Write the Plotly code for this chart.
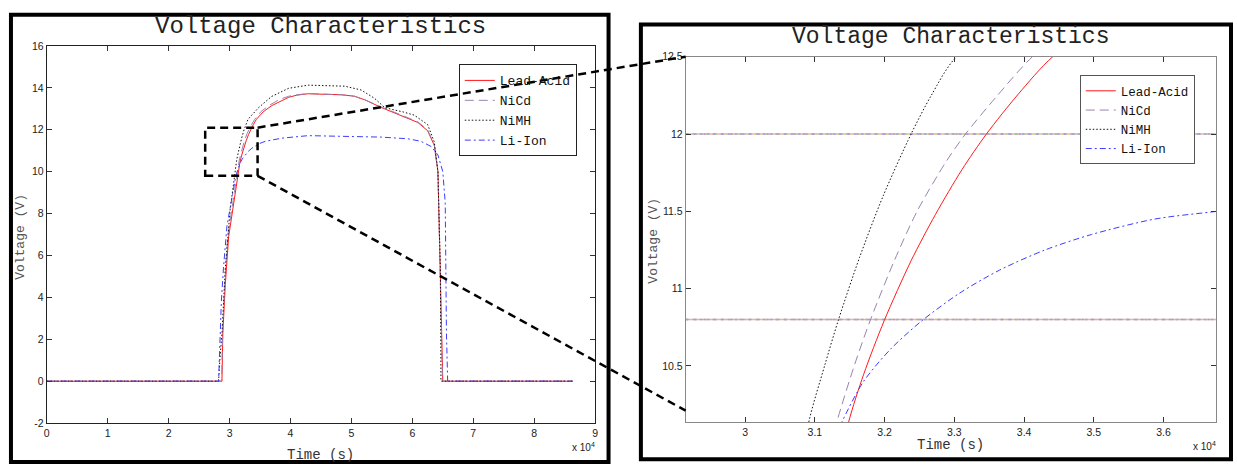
import plotly.graph_objects as go

W, H = 1237, 470

# ---------------- data (time in seconds, voltage in V) ----------------
SERIES = ["Lead-Acid", "NiCd", "NiMH", "Li-Ion"]

lead_t = [0, 28750, 28900, 29300, 29850, 30700, 31200, 31480, 31700, 31995, 32380,
          32730, 33110, 33460, 33920, 34410, 35500, 36900, 38500, 39700, 41000,
          42900, 45000, 48400, 50500, 52200, 55000, 58200, 60900, 62500, 63600,
          64200, 64400, 64700, 65000, 86300]
lead_v = [0, 0, 2.3, 4.6, 6.9, 8.5, 9.55, 10.13, 10.445, 10.793, 11.18,
          11.48, 11.77, 12.0, 12.26, 12.5, 12.85, 13.15, 13.4, 13.55, 13.65,
          13.72, 13.70, 13.67, 13.6, 13.43, 13.05, 12.66, 12.35, 11.96, 11.26,
          10.0, 7.7, 3.8, 0, 0]

nicd_t = [0, 28700, 28850, 29200, 29700, 30500, 31000, 31310, 31572, 31791, 32139,
          32466, 32880, 33160, 33600, 34120, 35200, 36600, 38200, 39700, 41000,
          42900, 45000, 48400, 50500, 52200, 55000, 58200, 60900, 62500, 63600,
          64200, 64400, 64700, 64950, 86300]
nicd_v = [0, 0, 2.3, 4.6, 6.9, 8.5, 9.6, 10.13, 10.51, 10.79, 11.18,
          11.5, 11.82, 12.0, 12.24, 12.5, 12.88, 13.18, 13.45, 13.6, 13.67,
          13.73, 13.70, 13.67, 13.6, 13.43, 13.08, 12.7, 12.38, 12.0, 11.3,
          10.0, 7.7, 3.8, 0, 0]

nimh_t = [0, 28200, 28400, 28760, 29300, 30100, 30600, 30910, 31140, 31340, 31640,
          31980, 32380, 32670, 33030, 34750, 36900, 39700, 42900, 48900, 51600,
          53800, 55500, 58500, 60300, 62500, 63600, 64200, 64600, 64700, 86300]
nimh_v = [0, 0, 1.0, 2.3, 5.4, 8.2, 9.3, 10.13, 10.5, 10.8, 11.2,
          11.6, 12.0, 12.25, 12.5, 13.05, 13.59, 13.98, 14.13, 14.08, 13.9,
          13.5, 13.05, 12.85, 12.7, 12.25, 11.42, 10.0, 5.4, 0, 0]

liion_t = [0, 28200, 28650, 29000, 29570, 30400, 31000, 31380, 31700, 32090, 32530,
           33074, 33651, 34301, 34968, 35877, 36770, 38600, 42900, 49500, 54900,
           59300, 61400, 63100, 64200, 65000, 65400, 65500, 65600, 65800, 86300]
liion_v = [0, 0, 3.8, 5.4, 7.4, 8.8, 9.75, 10.13, 10.40, 10.61, 10.79,
           10.97, 11.12, 11.25, 11.35, 11.45, 11.50, 11.6, 11.72, 11.70, 11.65,
           11.57, 11.45, 11.2, 10.8, 10.0, 8.5, 5.4, 2.3, 0, 0]

LEVELS = [12.0, 10.8]            # horizontal reference lines in the zoomed view

X1_TICKS = [0, 10000, 20000, 30000, 40000, 50000, 60000, 70000, 80000, 90000]
X1_LABELS = ["0", "1", "2", "3", "4", "5", "6", "7", "8", "9"]
Y1_TICKS = [-2, 0, 2, 4, 6, 8, 10, 12, 14, 16]
X2_TICKS = [30000, 31000, 32000, 33000, 34000, 35000, 36000]
X2_LABELS = ["3", "3.1", "3.2", "3.3", "3.4", "3.5", "3.6"]
Y2_TICKS = [10.5, 11, 11.5, 12, 12.5]
Y2_LABELS = ["10.5", "11", "11.5", "12", "12.5"]

XR1, YR1 = [0, 90000], [-2, 16]
XR2, YR2 = [29148, 36753], [10.136, 12.5]
ZOOM_X, ZOOM_Y = [26000, 34600], [9.8, 12.1]
CONNECT_Y2 = [12.5, 10.21]

TITLE = "Voltage Characteristics"

# ---------------- layout geometry (pixels) ----------------
def px(x):
    return x / W

def py(y):
    return 1 - y / H

P1 = dict(l=44, r=595, t=41, b=428)
P2 = dict(l=686, r=1219, t=52, b=427)

styles = {
    "Lead-Acid": dict(color="#ff1a1a", width=1, dash="solid"),
    "NiCd": dict(color="#9a82b0", width=1, dash="9px,5px"),
    "NiMH": dict(color="#111111", width=1, dash="1.5px,2px"),
    "Li-Ion": dict(color="#3c3cff", width=1, dash="6px,3px,2px,3px"),
}
data = {
    "Lead-Acid": (lead_t, lead_v),
    "NiCd": (nicd_t, nicd_v),
    "NiMH": (nimh_t, nimh_v),
    "Li-Ion": (liion_t, liion_v),
}

fig = go.Figure()
for name in SERIES:
    t, v = data[name]
    fig.add_trace(go.Scatter(x=t, y=v, mode="lines", name=name, line=styles[name],
                             xaxis="x", yaxis="y", legend="legend"))
for name in SERIES:
    t, v = data[name]
    fig.add_trace(go.Scatter(x=t, y=v, mode="lines", name=name,
                             line=dict(**styles[name], shape="spline", smoothing=0.8),
                             xaxis="x2", yaxis="y2", legend="legend2"))

tickfont = dict(family="Liberation Sans", size=10.5, color="#222")
mono = "Liberation Mono"

def axis(domain, rng, tickvals, ticktext, anchor, linecolor):
    return dict(domain=domain, range=rng, tickvals=tickvals, ticktext=ticktext,
                anchor=anchor, showline=True, linecolor=linecolor, linewidth=1,
                mirror="ticks", ticks="inside", ticklen=5, tickcolor="#333",
                showgrid=False, zeroline=False, tickfont=tickfont)

fig.update_layout(
    width=W, height=H, margin=dict(l=0, r=0, t=0, b=0),
    paper_bgcolor="white", plot_bgcolor="white", showlegend=True,
    xaxis=axis([px(P1["l"]), px(P1["r"])], [XR1[0], XR1[1] + 1], X1_TICKS, X1_LABELS, "y", "#222"),
    yaxis=axis([py(P1["b"]), py(P1["t"])], [YR1[0], YR1[1] + 0.001], Y1_TICKS, [str(v) for v in Y1_TICKS], "x", "#222"),
    xaxis2=axis([px(P2["l"]), px(P2["r"])], XR2, X2_TICKS, X2_LABELS, "y2", "#888"),
    yaxis2=axis([py(P2["b"]), py(P2["t"])], [YR2[0], YR2[1] + 0.0005], Y2_TICKS, Y2_LABELS, "x2", "#888"),
    legend=dict(x=px(458), y=py(60), xanchor="left", yanchor="top",
                bgcolor="rgba(0,0,0,0)", bordercolor="#222", borderwidth=1,
                font=dict(family=mono, size=13, color="#111"), tracegroupgap=0),
    legend2=dict(x=px(1082), y=py(71), xanchor="left", yanchor="top",
                 bgcolor="rgba(255,255,255,1)", bordercolor="#555", borderwidth=1,
                 font=dict(family=mono, size=12.5, color="#111"), tracegroupgap=0),
)

# ---------------- annotations ----------------
def note(text, x, y, size, color, family=mono, xanchor="center", angle=0):
    return dict(text=text, x=px(x), y=py(y), xref="paper", yref="paper", xanchor=xanchor,
                yanchor="middle", textangle=angle, showarrow=False,
                font=dict(family=family, size=size, color=color))

ann = [
    note(TITLE, (P1["l"] + P1["r"]) / 2, 21, 24, "#222"),
    note(TITLE, (P2["l"] + P2["r"]) / 2, 32, 23, "#222"),
    note("Time (s)", (P1["l"] + P1["r"]) / 2, 461, 14, "#333"),
    note("Time (s)", (P2["l"] + P2["r"]) / 2, 450, 14, "#333"),
    note("Voltage (V)", 18, 237, 13, "#555", angle=-90),
    note("Voltage (V)", 654, 241, 13, "#555", angle=-90),
    note("x 10<sup>4</sup>", P1["r"] + 2, 453, 10, "#222", family="Liberation Sans", xanchor="right"),
    note("x 10<sup>4</sup>", P2["r"] + 2, 452, 10, "#222", family="Liberation Sans", xanchor="right"),
]
fig.update_layout(annotations=ann)

# ---------------- shapes ----------------
def d2p_x1(t):
    return px(P1["l"]) + (t - XR1[0]) / (XR1[1] - XR1[0]) * (px(P1["r"]) - px(P1["l"]))

def d2p_y1(v):
    return py(P1["b"]) + (v - YR1[0]) / (YR1[1] - YR1[0]) * (py(P1["t"]) - py(P1["b"]))

def d2p_y2(v):
    return py(P2["b"]) + (v - YR2[0]) / (YR2[1] - YR2[0]) * (py(P2["t"]) - py(P2["b"]))

shapes = []
# outer frames
shapes.append(dict(type="rect", xref="paper", yref="paper", x0=px(8), x1=px(608.5), y0=py(468), y1=py(9),
                   line=dict(color="black", width=4), layer="above"))
shapes.append(dict(type="rect", xref="paper", yref="paper", x0=px(641), x1=px(1234), y0=py(465), y1=py(19),
                   line=dict(color="black", width=4), layer="above"))
# level lines in zoomed view (mixed colour dotted look)
for lv in LEVELS:
    for col, dash, w in [("#e9b88e", "solid", 1.6), ("#8fa6f2", "3px,4px", 1.6), ("#c08ad8", "2px,7px", 1.6),
                         ("#9fd09a", "1px,9px", 1.6)]:
        shapes.append(dict(type="line", xref="x2 domain", yref="y2", x0=0, x1=1, y0=lv, y1=lv,
                           line=dict(color=col, width=w, dash=dash), layer="below"))
# zoom box
bx0, bx1 = d2p_x1(ZOOM_X[0]), d2p_x1(ZOOM_X[1])
by0, by1 = d2p_y1(ZOOM_Y[0]), d2p_y1(ZOOM_Y[1])
dash_style = dict(color="black", width=2.5, dash="8px,5px")
shapes.append(dict(type="rect", xref="paper", yref="paper", x0=bx0, x1=bx1, y0=by0, y1=by1,
                   line=dash_style, layer="above"))
# connector lines
shapes.append(dict(type="line", xref="paper", yref="paper", x0=bx1, y0=by1, x1=px(P2["l"]), y1=d2p_y2(CONNECT_Y2[0]),
                   line=dash_style, layer="above"))
shapes.append(dict(type="line", xref="paper", yref="paper", x0=bx1, y0=by0, x1=px(P2["l"]), y1=d2p_y2(CONNECT_Y2[1]),
                   line=dash_style, layer="above"))
fig.update_layout(shapes=shapes)

fig.write_html("out.html", config={"displayModeBar": False},
               post_script="document.body.style.margin='0';document.body.style.overflow='hidden';")
